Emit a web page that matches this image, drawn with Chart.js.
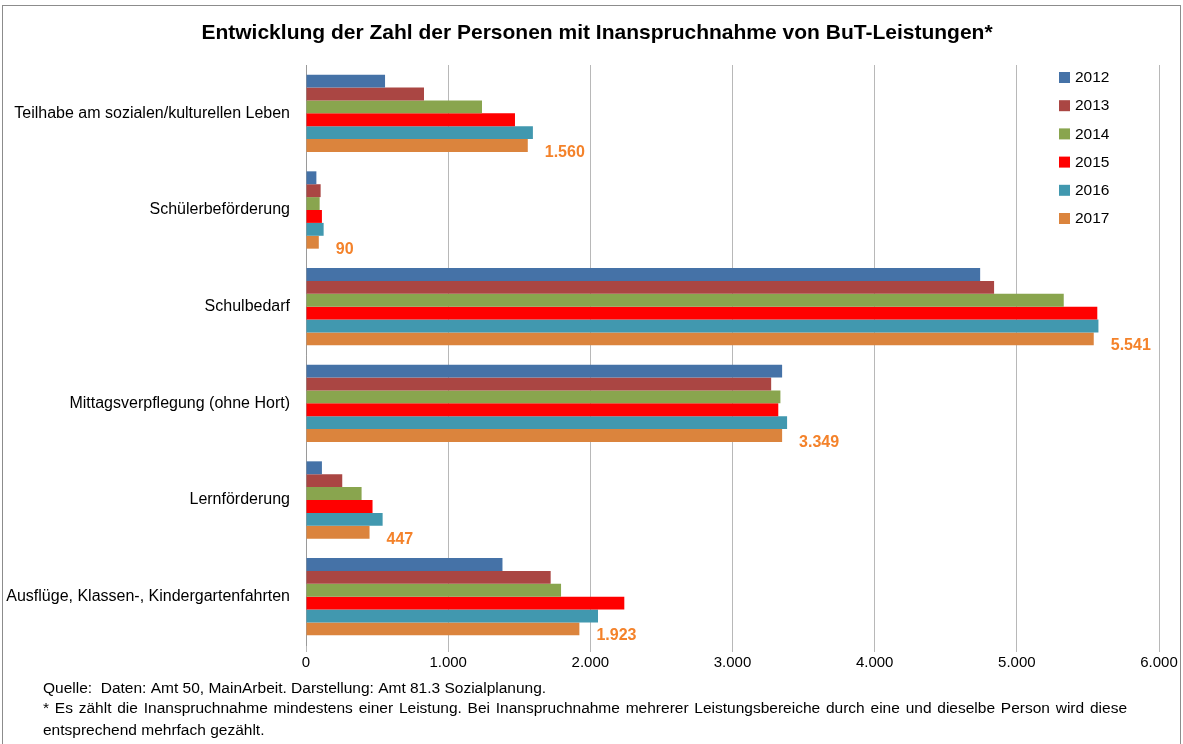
<!DOCTYPE html>
<html>
<head>
<meta charset="utf-8">
<script src="https://cdn.jsdelivr.net/npm/chart.js@4"></script>
<style>
html,body{margin:0;padding:0;background:#fff;}
#wrap{width:1183px;height:744px;position:relative;}
</style>
</head>
<body>
<div id="wrap"><canvas id="c" width="1183" height="744"></canvas></div>
<script>
const categories = [
  "Teilhabe am sozialen/kulturellen Leben",
  "Schülerbeförderung",
  "Schulbedarf",
  "Mittagsverpflegung (ohne Hort)",
  "Lernförderung",
  "Ausflüge, Klassen-, Kindergartenfahrten"
];
const years = ["2012", "2013", "2014", "2015", "2016", "2017"];
const v2012 = [556, 73, 4742, 3349, 112, 1382];
const v2013 = [830, 103, 4840, 3272, 255, 1721];
const v2014 = [1238, 96, 5330, 3337, 391, 1794];
const v2015 = [1470, 112, 5566, 3322, 468, 2239];
const v2016 = [1596, 124, 5574, 3384, 539, 2054];
const v2017 = [1560, 90, 5541, 3349, 447, 1923];
const xTicks = [0, 1000, 2000, 3000, 4000, 5000, 6000];
const colors = ["#4572A7", "#AA4643", "#89A54E", "#FF0000", "#4198AF", "#DB843D"];
const titleText = "Entwicklung der Zahl der Personen mit Inanspruchnahme von BuT-Leistungen*";
const noteLine1 = "Quelle:  Daten: Amt 50, MainArbeit. Darstellung: Amt 81.3 Sozialplanung.";
const noteLine2 = "* Es zählt die Inanspruchnahme mindestens einer Leistung. Bei Inanspruchnahme mehrerer Leistungsbereiche durch eine und dieselbe Person wird diese";
const noteLine3 = "entsprechend mehrfach gezählt.";

const series = [v2012, v2013, v2014, v2015, v2016, v2017];
const fmt = v => String(v).replace(/\B(?=(\d{3})+(?!\d))/g, ".");
const FONT = "'Liberation Sans', Arial, sans-serif";

const decor = {
  id: 'decor',
  afterDraw(chart) {
    const ctx = chart.ctx;
    ctx.save();
    ctx.strokeStyle = '#8c8c8c';
    ctx.lineWidth = 1;
    ctx.strokeRect(2.5, 5.5, 1178, 760);
    ctx.fillStyle = '#000';
    ctx.font = "bold 21px " + FONT;
    ctx.textAlign = 'center';
    ctx.textBaseline = 'middle';
    ctx.fillText(titleText, 597, 33);
    const meta = chart.getDatasetMeta(5);
    ctx.font = "bold 16px " + FONT;
    ctx.fillStyle = '#F4822A';
    ctx.textAlign = 'left';
    meta.data.forEach((bar, i) => {
      ctx.fillText(fmt(v2017[i]), bar.x + 17, bar.y + 7);
    });
    ctx.font = "15.5px " + FONT;
    years.forEach((y, i) => {
      const yy = 77 + i * 28.2;
      ctx.fillStyle = colors[i];
      ctx.fillRect(1059, yy - 5, 11, 11);
      ctx.fillStyle = '#000';
      ctx.textBaseline = 'middle';
      ctx.fillText(y, 1075, yy + 1);
    });
    ctx.font = "15.5px " + FONT;
    ctx.fillStyle = '#000';
    ctx.textAlign = 'left';
    ctx.textBaseline = 'alphabetic';
    ctx.fillText(noteLine1, 43, 693);
    const words = noteLine2.split(' ');
    const total = words.reduce((s, w) => s + ctx.measureText(w).width, 0);
    const gap = (1127 - 43 - total) / (words.length - 1);
    let x = 43;
    words.forEach(w => { ctx.fillText(w, x, 713); x += ctx.measureText(w).width + gap; });
    ctx.fillText(noteLine3, 43, 735);
    ctx.restore();
  }
};

new Chart(document.getElementById('c'), {
  type: 'bar',
  data: {
    labels: categories,
    datasets: years.map((y, i) => ({
      label: y,
      data: series[i],
      backgroundColor: colors[i],
      borderWidth: 0,
      categoryPercentage: 0.8,
      barPercentage: 1.0
    }))
  },
  options: {
    indexAxis: 'y',
    responsive: false,
    animation: false,
    layout: { padding: { top: 65, right: 24, left: 0, bottom: 0 } },
    plugins: { legend: { display: false }, tooltip: { enabled: false }, title: { display: false } },
    scales: {
      x: {
        min: 0, max: 6000,
        afterBuildTicks(s) { s.ticks = xTicks.map(v => ({ value: v })); },
        afterFit(s) { s.height = 99; },
        grid: { color: '#b8b8b8', tickLength: 7, drawTicks: true, tickColor: '#b8b8b8' },
        border: { display: false },
        ticks: {
          color: '#000', font: { family: FONT, size: 15 }, padding: 2,
          callback: v => fmt(v)
        }
      },
      y: {
        afterFit(s) { s.width = 306; },
        grid: { display: false, drawTicks: false },
        border: { display: true, color: '#9a9a9a' },
        ticks: { color: '#000', font: { family: FONT, size: 16 }, padding: 16 }
      }
    }
  },
  plugins: [decor]
});
</script>
</body>
</html>
